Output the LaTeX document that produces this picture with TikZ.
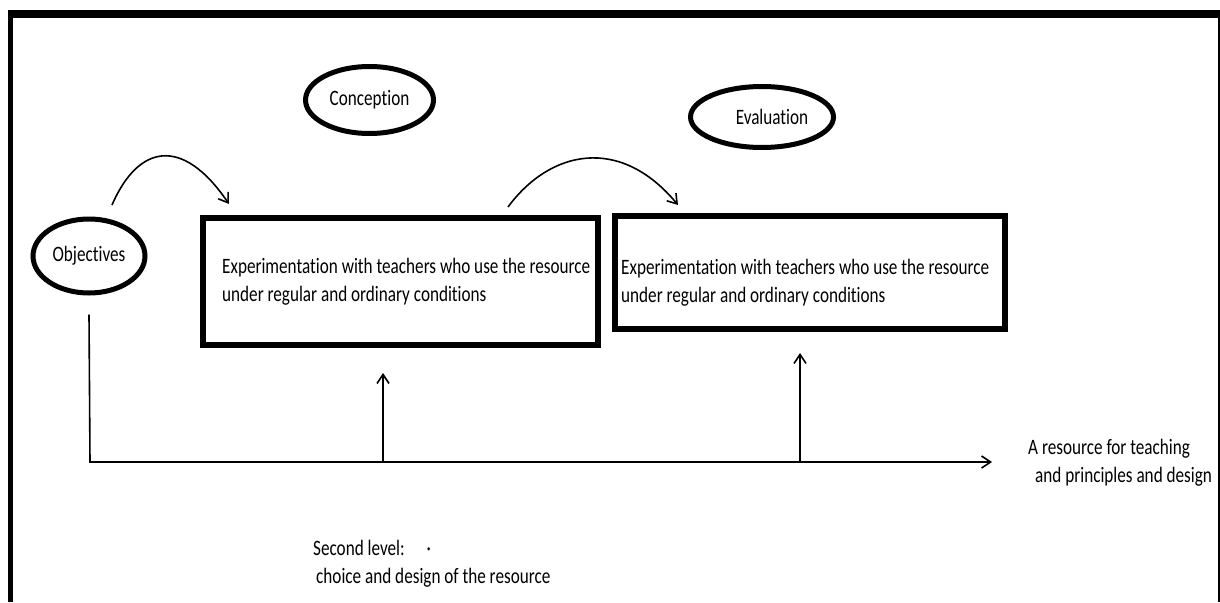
\documentclass[tikz,border=0pt]{standalone}
\usepackage{fontspec}
\setmainfont{Carlito}[FakeStretch=0.78,Ligatures=NoCommon]
\usetikzlibrary{shapes.geometric,arrows.meta}
\begin{document}
\begin{tikzpicture}[x=1pt,y=-1pt,>={Straight Barb[length=9pt,width=12pt]},font=\fontsize{22}{28}\selectfont]
  \tikzstyle{phase}=[draw,shape=ellipse,line width=5pt,inner sep=0pt]
  \tikzstyle{stage}=[draw,shape=rectangle,line width=6pt]
  \tikzstyle{note}=[anchor=west,align=left,inner sep=0pt]
  \tikzstyle{link}=[line width=1.6pt]
  \useasboundingbox (0,0) rectangle (1220,602);
  % frame
  \draw[line width=8pt] (8,14) -- (1220,14);
  \draw[line width=5pt] (10.5,10) -- (10.5,602);
  \draw[line width=2pt] (1219,18) -- (1219,602);
  % phases
  \node[phase,minimum width=128pt,minimum height=67pt](conc) at (369.5,100){Conception};
  \node[phase,minimum width=143pt,minimum height=61pt](eval) at (762,117){\hspace*{20pt}Evaluation};
  \node[phase,minimum width=112pt,minimum height=74pt](obj) at (89,256){Objectives};
  % experimentation boxes
  \node[stage,minimum width=395pt,minimum height=127pt](exp1) at (400.5,281.5){};
  \node[stage,minimum width=390pt,minimum height=113pt](exp2) at (810,272.5){};
  \node[note](exp1txt) at ([xshift=22pt]exp1.west){Experimentation with teachers who use the resource\\under regular and ordinary conditions};
  \node[note](exp2txt) at ([xshift=9pt,yshift=-10pt]exp2.west){Experimentation with teachers who use the resource\\under regular and ordinary conditions};
  % curved arrows
  \coordinate (c1s) at (112,205);
  \coordinate (c1e) at (229,204);
  \coordinate (c2s) at (508,207);
  \coordinate (c2e) at (678,205);
  \draw[link,->] (c1s) .. controls (138,145) and (182,135) .. (c1e);
  \draw[link,->] (c2s) .. controls (550,150) and (620,135) .. (c2e);
  % axis
  \coordinate (corner) at (90,462);
  \coordinate (goal) at (992,462);
  \coordinate (foot1) at (383,462);
  \coordinate (foot2) at (800,462);
  \draw[link,->] ([yshift=-19pt]obj.south) -- (corner) -- (goal);
  \draw[link,->] (foot1) -- ([yshift=-25pt]exp1.south -| foot1);
  \draw[link,->] (foot2) -- ([yshift=-21pt]exp2.south -| foot2);
  % labels
  \node[note](goaltxt) at (1028,463){A resource for teaching\\\hspace*{7pt}and principles and design};
  \node[note](level) at (313,564){Second level:\hspace{22pt}·\\\hspace*{3pt}choice and design of the resource};
\end{tikzpicture}
\end{document}
